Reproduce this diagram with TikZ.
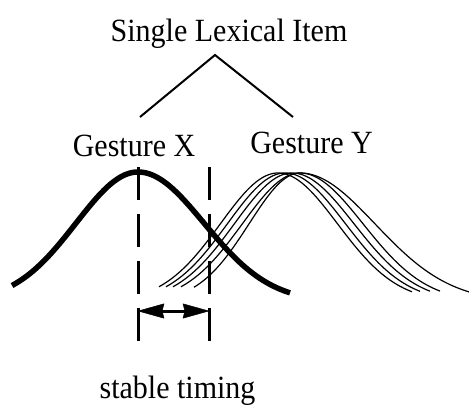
\documentclass[tikz,border=0pt]{standalone}
\usepackage{fontspec}
\setmainfont{Liberation Serif}
\usetikzlibrary{arrows.meta}
\tikzset{
  lbl/.style={inner sep=0pt, anchor=base, font=\fontsize{30}{36}\selectfont},
  tree/.style={line width=2pt},
  bold gauss/.style={line width=5.5pt},
  thin gauss/.style={line width=1.2pt},
  guide/.style={line width=3pt, dash pattern=on 33pt off 14pt},
  tip/.tip={Stealth[length=27pt,width=15pt,inset=2pt,line width=0.5pt,round]},
  timing/.style={line width=3pt, tip-tip}
}
% #1 left end, #2 peak, #3 right end, #4 left sigma, #5 right sigma
\newcommand{\gausscurve}[6]{%
  \draw[#6] plot[domain=#1:#2, samples=50] (\x, {302-129*exp(-0.5*((\x-#2)/#4)^2)})
    -- plot[domain=#2:#3, samples=50] (\x, {302-129*exp(-0.5*((\x-#2)/#5)^2)});}
\begin{document}
\begin{tikzpicture}[x=1pt, y=-1pt]
\useasboundingbox (0,0) rectangle (469,408);
% labels
\node[lbl] (title) at (229,41.5) {\scalebox{1}[1.08]{Single Lexical Item}};
\node[lbl] (gx) at (134,156) {\scalebox{1}[1.08]{Gesture X}};
\node[lbl] (gy) at (311.5,153) {\scalebox{1}[1.08]{Gesture Y}};
\node[lbl] (st) at (177.5,398) {\scalebox{1}[1.08]{stable timing}};
% tree
\coordinate (apex) at (215,55);
\coordinate (tl) at (140,117);
\coordinate (tr) at (293,117);
\draw[tree] (tl) -- (apex) -- (tr);
% Gesture Y curves (thin)
\begin{scope}
\clip (0,0) rectangle (469,408);
\gausscurve{159}{278}{412}{57.6}{59.5}{thin gauss}
\gausscurve{166}{285}{420}{57.6}{60.5}{thin gauss}
\gausscurve{173}{292}{430}{57.6}{62}{thin gauss}
\gausscurve{181}{300}{440}{57.6}{63}{thin gauss}
\gausscurve{194}{300}{470}{50.9}{74.9}{thin gauss}
\end{scope}
% Gesture X curve (bold)
\draw[bold gauss] plot[domain=12:138, samples=60] (\x, {302-130*exp(-0.5*((\x-138)/62)^2)})
  -- plot[domain=138:290, samples=60] (\x, {302-130*exp(-0.5*((\x-138)/66)^2)});
% dashed guides
\coordinate (d1t) at (138,167);
\coordinate (d1b) at (138,341);
\coordinate (d2t) at (209,167);
\coordinate (d2b) at (209,341);
\draw[guide] (d1t) -- (d1b);
\draw[guide] (d2t) -- (d2b);
% timing arrow
\coordinate (a1) at (138,311);
\coordinate (a2) at (209,311);
\draw[timing] (a1) -- (a2);
\end{tikzpicture}
\end{document}
